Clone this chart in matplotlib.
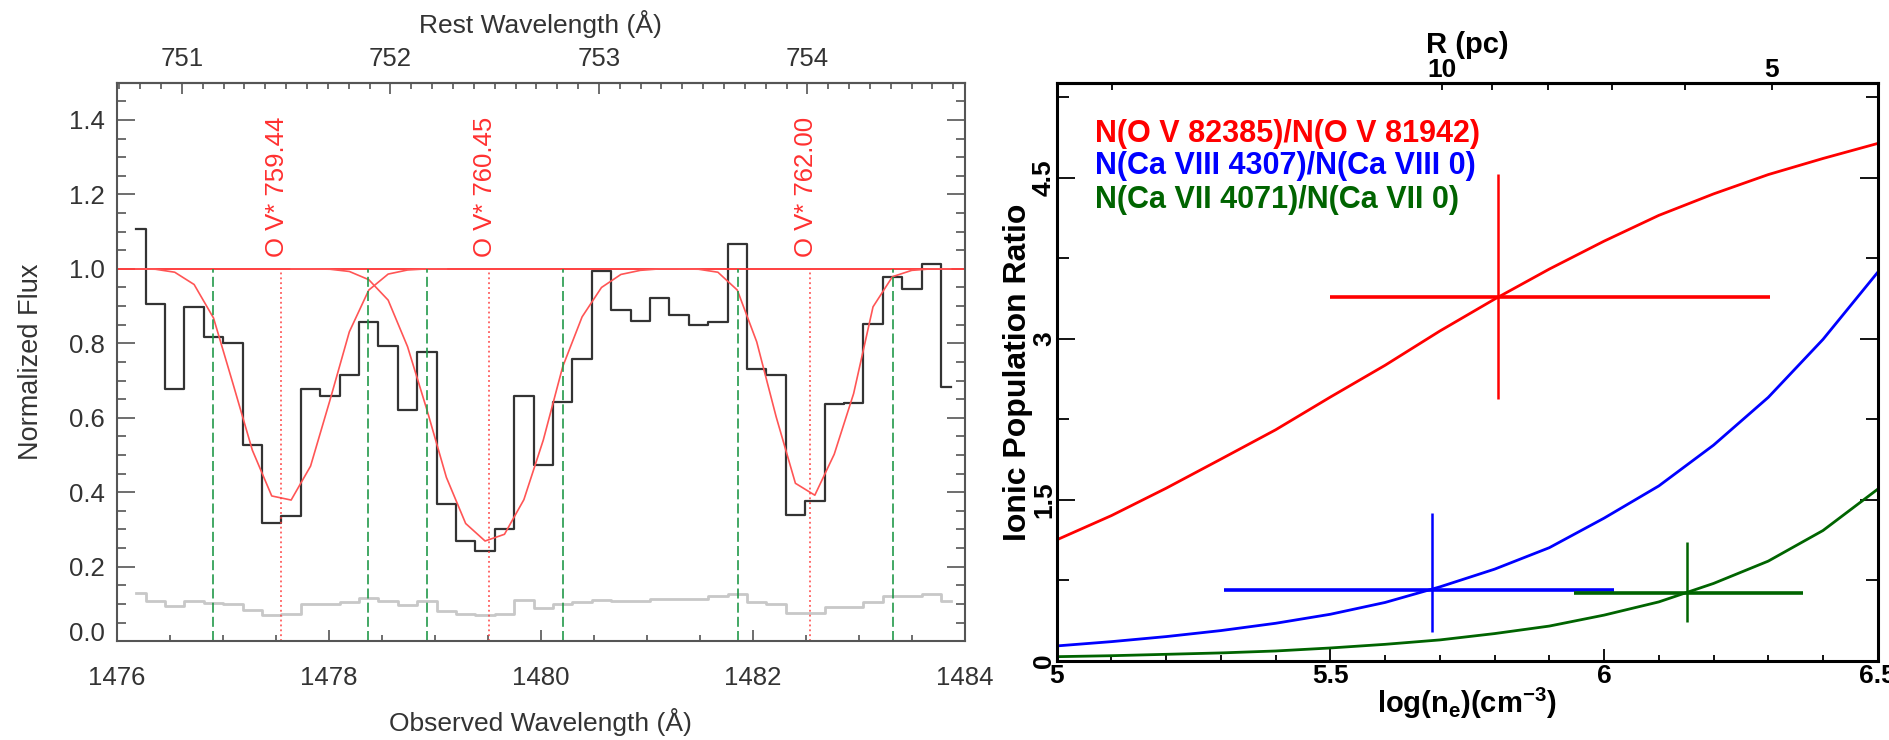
import numpy as np
from matplotlib import pyplot as plt
from matplotlib.ticker import MultipleLocator

plt.rcParams['font.family'] = ['Liberation Sans', 'DejaVu Sans']
plt.rcParams['mathtext.fontset'] = 'custom'
plt.rcParams['mathtext.rm'] = 'Liberation Sans:bold'
plt.rcParams['mathtext.bf'] = 'Liberation Sans:bold'
plt.rcParams['mathtext.it'] = 'Liberation Sans:bold'

# ---------------- left panel: O V* absorption ----------------
wave = [1476.182, 1476.365, 1476.548, 1476.731, 1476.914, 1477.097, 1477.280,
        1477.463, 1477.646, 1477.829, 1478.012, 1478.195, 1478.378, 1478.561,
        1478.744, 1478.927, 1479.110, 1479.292, 1479.475, 1479.658, 1479.841,
        1480.024, 1480.207, 1480.390, 1480.573, 1480.756, 1480.939, 1481.122,
        1481.305, 1481.488, 1481.671, 1481.854, 1482.037, 1482.220, 1482.402,
        1482.585, 1482.768, 1482.951, 1483.134, 1483.317, 1483.500, 1483.683,
        1483.866]
flux = [1.106, 0.906, 0.678, 0.898, 0.817, 0.802, 0.527, 0.317, 0.337, 0.678,
        0.658, 0.715, 0.857, 0.793, 0.620, 0.778, 0.368, 0.268, 0.241, 0.302,
        0.658, 0.472, 0.643, 0.759, 0.993, 0.890, 0.860, 0.921, 0.875, 0.849,
        0.858, 1.066, 0.730, 0.716, 0.339, 0.377, 0.636, 0.640, 0.852, 0.979,
        0.947, 1.012, 0.683]
error = [0.128, 0.108, 0.094, 0.108, 0.102, 0.100, 0.084, 0.071, 0.074, 0.100,
         0.100, 0.106, 0.115, 0.109, 0.097, 0.108, 0.082, 0.074, 0.071, 0.074,
         0.110, 0.088, 0.100, 0.105, 0.111, 0.109, 0.109, 0.114, 0.114, 0.114,
         0.120, 0.126, 0.105, 0.101, 0.075, 0.075, 0.093, 0.093, 0.105, 0.120,
         0.120, 0.126, 0.108]

# model profiles, each defined over a slice of the wave grid
model_windows = [(0, 17), (8, 29), (28, 43)]
model1 = [1.000, 0.999, 0.991, 0.958, 0.868, 0.692, 0.513, 0.390, 0.379, 0.470,
          0.647, 0.831, 0.943, 0.986, 0.997, 1.000, 1.000]
model2 = [1.000, 1.000, 0.999, 0.993, 0.971, 0.916, 0.791, 0.621, 0.440, 0.316,
          0.269, 0.287, 0.380, 0.540, 0.737, 0.871, 0.950, 0.985, 0.996, 1.000,
          1.000]
model3 = [1.000, 0.999, 0.991, 0.943, 0.804, 0.603, 0.424, 0.392, 0.502, 0.665,
          0.898, 0.979, 0.996, 1.000, 1.000]

ov_obs = [1477.55, 1479.51, 1482.54]
ov_labels = ['O V* 759.44', 'O V* 760.45', 'O V* 762.00']
int_windows = [1476.911, 1478.373, 1478.924, 1480.212, 1481.857, 1483.318]
continuum = 1.0
one_plus_z = 1.9662

# ---------------- right panel: population ratios ----------------
log_ne = [5.0, 5.1, 5.2, 5.3, 5.4, 5.5, 5.6, 5.7, 5.8, 5.9, 6.0, 6.1, 6.2, 6.3,
          6.4, 6.5]
ratio_ov = [1.128, 1.354, 1.609, 1.880, 2.153, 2.458, 2.754, 3.073, 3.370, 3.650,
            3.910, 4.150, 4.350, 4.530, 4.680, 4.820]
ratio_ca8 = [0.140, 0.180, 0.227, 0.283, 0.351, 0.435, 0.545, 0.690, 0.855, 1.055,
             1.330, 1.630, 2.010, 2.455, 2.995, 3.620]
ratio_ca7 = [0.040, 0.049, 0.062, 0.075, 0.093, 0.121, 0.155, 0.196, 0.255, 0.325,
             0.427, 0.550, 0.722, 0.930, 1.215, 1.600]
ratio_names = ['N(O V 82385)/N(O V 81942)', 'N(Ca VIII 4307)/N(Ca VIII 0)',
               'N(Ca VII 4071)/N(Ca VII 0)']
ratio_colors = ['#ff0000', '#0000ff', '#006400']

meas_x = [5.807, 5.686, 6.152]
meas_y = [3.390, 0.662, 0.637]
meas_x_lo = [5.500, 5.305, 5.945]
meas_x_hi = [6.303, 6.018, 6.364]
meas_y_lo = [2.439, 0.267, 0.361]
meas_y_hi = [4.536, 1.376, 1.112]

log_ne_10pc = 5.704
r_ticks = [20, 10, 9, 8, 7, 6, 5]
r_labels = ['', '10', '', '', '', '', '5']

fig = plt.figure(figsize=(18.9, 7.4), dpi=100)

# ================= left =================
ax1 = fig.add_axes([0.0617, 0.1336, 0.4488, 0.7546])
txt = '#333333'
ax1.plot(wave, error, drawstyle='steps-mid', color='#c8c8c8', lw=2)
ax1.plot(wave, flux, drawstyle='steps-mid', color='#333333', lw=1.6)
ax1.axhline(continuum, color='#ff4040', lw=1.4)
for (i0, i1), m in zip(model_windows, [model1, model2, model3]):
    ax1.plot(wave[i0:i1], m, color='#ff5555', lw=1.2)
for w in int_windows:
    ax1.plot([w, w], [0, continuum], color='#22994a', lw=1.2, dashes=(6, 2.5))
for w, lab in zip(ov_obs, ov_labels):
    ax1.plot([w, w], [0, continuum], color='#ff4040', lw=1.1, dashes=(1.2, 2))
    ax1.text(w - 0.04, 1.031, lab, rotation=90, ha='center', va='bottom',
             color='#ff3030', fontsize=18.5)

ax1.set_xlim(1476, 1484)
ax1.set_ylim(0, 1.5)
ax1.set_xticks([1476, 1478, 1480, 1482, 1484])
ax1.xaxis.set_minor_locator(MultipleLocator(0.5))
ax1.set_yticks([0.0, 0.2, 0.4, 0.6, 0.8, 1.0, 1.2, 1.4])
ax1.set_yticklabels(['0.0', '0.2', '0.4', '0.6', '0.8', '1.0', '1.2', '1.4'])
ax1.yaxis.set_minor_locator(MultipleLocator(0.05))
ax1.tick_params(which='both', direction='in', top=False, right=True,
                labelsize=18.5, color='#555555', labelcolor=txt, width=1.2)
ax1.tick_params(axis='y', which='major', length=12.7, pad=8.4)
ax1.tick_params(axis='y', which='minor', length=6.5)
ax1.tick_params(axis='x', which='major', length=7.9, pad=17.9)
ax1.tick_params(axis='x', which='minor', length=4.3)
ax1.yaxis.get_major_ticks()[0].label1.set_va('baseline')
for s in ax1.spines.values():
    s.set_color('#555555')
    s.set_linewidth(1.5)
ax1.set_xlabel('Observed Wavelength (Å)', fontsize=19, color=txt, va='baseline')
ax1.xaxis.set_label_coords(0.5, -0.161)
ax1.set_ylabel('Normalized Flux', fontsize=19.5, color=txt, va='baseline')
ax1.yaxis.set_label_coords(-0.0924, 0.5)

sec1 = ax1.secondary_xaxis('top', functions=(lambda x: x / one_plus_z,
                                             lambda x: x * one_plus_z))
sec1.set_xticks([751, 752, 753, 754])
sec1.xaxis.set_minor_locator(MultipleLocator(0.1))
sec1.tick_params(which='both', direction='in', labelsize=18.5,
                 color='#555555', labelcolor=txt, width=1.2)
sec1.tick_params(which='major', length=7.7, pad=8.2)
sec1.tick_params(which='minor', length=4.1)
for s in sec1.spines.values():
    s.set_color('#555555')
    s.set_linewidth(1.5)
ax1.text(0.5, 1.0885, 'Rest Wavelength (Å)', transform=ax1.transAxes,
         ha='center', va='baseline', fontsize=19, color=txt)

# ================= right =================
ax2 = fig.add_axes([0.5591, 0.1068, 0.4344, 0.7806])
for y, c in zip([ratio_ov, ratio_ca8, ratio_ca7], ratio_colors):
    ax2.plot(log_ne, y, color=c, lw=2)
ax2.hlines(meas_y, meas_x_lo, meas_x_hi, colors=ratio_colors, lw=2.6)
ax2.vlines(meas_x, meas_y_lo, meas_y_hi, colors=ratio_colors, lw=1.8)

ax2.set_xlim(5, 6.5)
ax2.set_ylim(0, 5.38)
ax2.set_xticks([5, 5.5, 6, 6.5])
ax2.set_xticklabels(['5', '5.5', '6', '6.5'])
ax2.xaxis.set_minor_locator(MultipleLocator(0.1))
ax2.set_yticks([0, 1.5, 3, 4.5])
ax2.set_yticklabels(['0', '1.5', '3', '4.5'])
ax2.yaxis.set_minor_locator(MultipleLocator(0.75))
ax2.tick_params(which='both', direction='in', top=False, right=True,
                labelsize=19, width=1.3)
ax2.tick_params(axis='y', which='major', length=12.7, pad=0.5)
ax2.tick_params(axis='y', which='minor', length=8.5)
ax2.tick_params(axis='x', which='major', length=9, pad=2)
ax2.tick_params(axis='x', which='minor', length=4.3)
for lab in ax2.get_xticklabels():
    lab.set_fontweight('bold')
for lab in ax2.get_yticklabels():
    lab.set_fontweight('bold')
    lab.set_rotation(90)
    lab.set_va('center')
for s in ax2.spines.values():
    s.set_color('black')
    s.set_linewidth(2.2)
ax2.set_xlabel(r'$\mathbf{log(n_e)(cm^{-3})}$', fontsize=21, va='baseline')
ax2.xaxis.set_label_coords(0.5, -0.09)
ax2.set_ylabel('Ionic Population Ratio', fontsize=23, fontweight='bold', va='baseline')
ax2.yaxis.set_label_coords(-0.038, 0.5)

for name, c, yb in zip(ratio_names, ratio_colors, [0.899, 0.8425, 0.7847]):
    ax2.text(0.0467, yb, name, transform=ax2.transAxes, color=c, fontsize=22,
             fontweight='bold', va='baseline')

sec2 = ax2.secondary_xaxis(
    'top', functions=(lambda x: 10 * np.power(10.0, (log_ne_10pc - np.asarray(x)) / 2),
                      lambda r: log_ne_10pc + 2 * np.log10(10 / np.asarray(r))))
sec2.set_xticks(r_ticks)
sec2.set_xticklabels(r_labels)
sec2.xaxis.set_minor_locator(plt.NullLocator())
sec2.tick_params(direction='in', length=4.8, pad=1, labelsize=19, width=1.3)
for lab in sec2.get_xticklabels():
    lab.set_fontweight('bold')
for s in sec2.spines.values():
    s.set_linewidth(2.2)
ax2.text(0.5, 1.0519, 'R (pc)', transform=ax2.transAxes, ha='center',
         va='baseline', fontsize=21, fontweight='bold')

fig.savefig('out.png', dpi=100)
